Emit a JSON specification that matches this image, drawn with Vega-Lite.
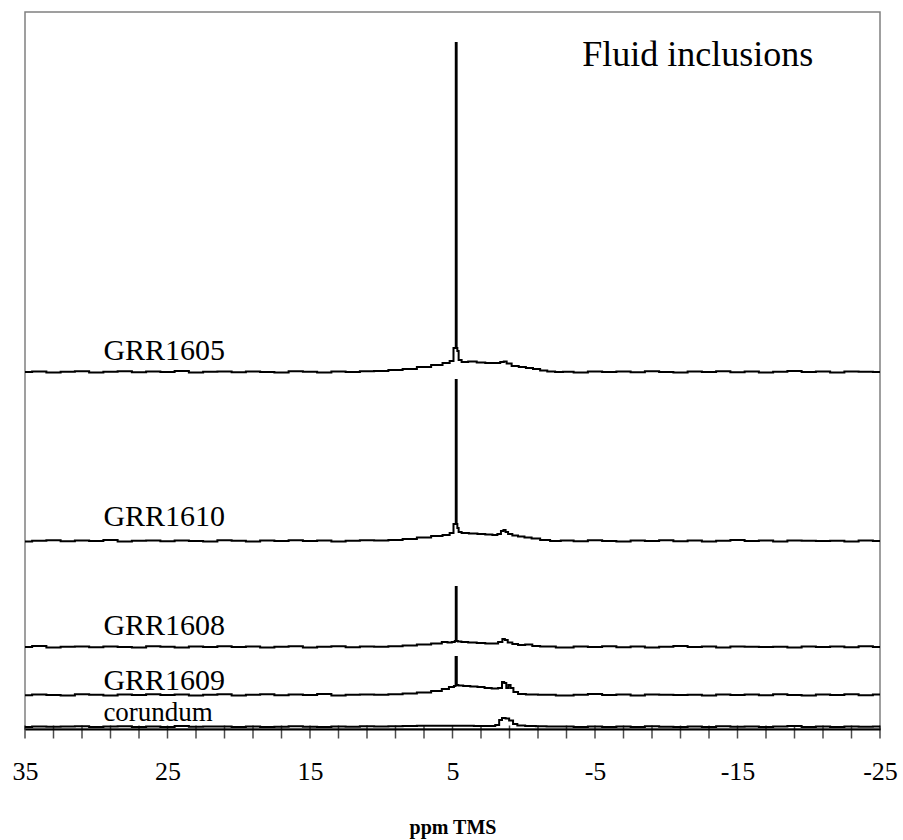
{
  "$schema": "https://vega.github.io/schema/vega-lite/v6.json",
  "width": 855,
  "height": 717,
  "autosize": {"type": "none"},
  "padding": {"left": 25, "right": 23, "top": 12, "bottom": 111},
  "background": "white",
  "config": {
    "view": {"stroke": "#808080", "strokeWidth": 1.5},
    "font": "Liberation Serif"
  },
  "datasets": {
    "spectra": [
      {"s":"GRR1605","x":35,"y":357},{"s":"GRR1605","x":34,"y":357.6},{"s":"GRR1605","x":33,"y":356.6},{"s":"GRR1605","x":32,"y":357.3},{"s":"GRR1605","x":31,"y":357.8},{"s":"GRR1605","x":30,"y":356.5},{"s":"GRR1605","x":29,"y":357.2},{"s":"GRR1605","x":28,"y":357.7},{"s":"GRR1605","x":27,"y":356.7},{"s":"GRR1605","x":26,"y":357.4},{"s":"GRR1605","x":25,"y":357},{"s":"GRR1605","x":24,"y":357.9},{"s":"GRR1605","x":23,"y":356.4},{"s":"GRR1605","x":22,"y":357.3},{"s":"GRR1605","x":21,"y":357.5},{"s":"GRR1605","x":20,"y":356.8},{"s":"GRR1605","x":19,"y":357.6},{"s":"GRR1605","x":18,"y":357},{"s":"GRR1605","x":17,"y":356.5},{"s":"GRR1605","x":16,"y":357.8},{"s":"GRR1605","x":15,"y":357.2},{"s":"GRR1605","x":14,"y":356.6},{"s":"GRR1605","x":13,"y":357.5},{"s":"GRR1605","x":12,"y":357.1},{"s":"GRR1605","x":11,"y":357.7},
      {"s":"GRR1605","x":10,"y":358},{"s":"GRR1605","x":9,"y":359},{"s":"GRR1605","x":8,"y":360},{"s":"GRR1605","x":7,"y":362},{"s":"GRR1605","x":6,"y":364},{"s":"GRR1605","x":5.4,"y":366},{"s":"GRR1605","x":5.0,"y":368},{"s":"GRR1605","x":4.86,"y":381},{"s":"GRR1605","x":4.78,"y":381},{"s":"GRR1605","x":4.76,"y":686},{"s":"GRR1605","x":4.72,"y":686},{"s":"GRR1605","x":4.70,"y":381},{"s":"GRR1605","x":4.62,"y":378},{"s":"GRR1605","x":4.52,"y":369},{"s":"GRR1605","x":4.2,"y":367},{"s":"GRR1605","x":3.6,"y":367.5},{"s":"GRR1605","x":3.0,"y":366.5},{"s":"GRR1605","x":2.4,"y":366},{"s":"GRR1605","x":1.8,"y":366},{"s":"GRR1605","x":1.5,"y":367},{"s":"GRR1605","x":1.3,"y":367.5},{"s":"GRR1605","x":1.1,"y":365.5},{"s":"GRR1605","x":0.6,"y":363},{"s":"GRR1605","x":0.1,"y":362},{"s":"GRR1605","x":-0.4,"y":361},{"s":"GRR1605","x":-0.9,"y":360},{"s":"GRR1605","x":-1.4,"y":358.5},{"s":"GRR1605","x":-1.9,"y":357.5},{"s":"GRR1605","x":-2.5,"y":357},
      {"s":"GRR1605","x":-3,"y":357.3},{"s":"GRR1605","x":-4,"y":356.6},{"s":"GRR1605","x":-5,"y":357.6},{"s":"GRR1605","x":-6,"y":357},{"s":"GRR1605","x":-7,"y":357.5},{"s":"GRR1605","x":-8,"y":356.7},{"s":"GRR1605","x":-9,"y":357.8},{"s":"GRR1605","x":-10,"y":357.1},{"s":"GRR1605","x":-11,"y":356.5},{"s":"GRR1605","x":-12,"y":357.4},{"s":"GRR1605","x":-13,"y":357},{"s":"GRR1605","x":-14,"y":357.7},{"s":"GRR1605","x":-15,"y":356.8},{"s":"GRR1605","x":-16,"y":357.5},{"s":"GRR1605","x":-17,"y":356.4},{"s":"GRR1605","x":-18,"y":357.3},{"s":"GRR1605","x":-19,"y":357.9},{"s":"GRR1605","x":-20,"y":356.9},{"s":"GRR1605","x":-21,"y":357.4},{"s":"GRR1605","x":-22,"y":356.6},{"s":"GRR1605","x":-23,"y":357.6},{"s":"GRR1605","x":-24,"y":357.2},{"s":"GRR1605","x":-25,"y":357},

      {"s":"GRR1610","x":35,"y":187.5},{"s":"GRR1610","x":34,"y":188.2},{"s":"GRR1610","x":33,"y":188.7},{"s":"GRR1610","x":32,"y":187.7},{"s":"GRR1610","x":31,"y":188.4},{"s":"GRR1610","x":30,"y":188},{"s":"GRR1610","x":29,"y":188.9},{"s":"GRR1610","x":28,"y":187.4},{"s":"GRR1610","x":27,"y":188.3},{"s":"GRR1610","x":26,"y":188.5},{"s":"GRR1610","x":25,"y":187.8},{"s":"GRR1610","x":24,"y":188.6},{"s":"GRR1610","x":23,"y":188},{"s":"GRR1610","x":22,"y":187.5},{"s":"GRR1610","x":21,"y":188.8},{"s":"GRR1610","x":20,"y":188.2},{"s":"GRR1610","x":19,"y":187.6},{"s":"GRR1610","x":18,"y":188.5},{"s":"GRR1610","x":17,"y":188.1},{"s":"GRR1610","x":16,"y":188.7},{"s":"GRR1610","x":15,"y":188},{"s":"GRR1610","x":14,"y":188.6},{"s":"GRR1610","x":13,"y":187.6},{"s":"GRR1610","x":12,"y":188.3},{"s":"GRR1610","x":11,"y":188.8},
      {"s":"GRR1610","x":10,"y":188.5},{"s":"GRR1610","x":9,"y":189},{"s":"GRR1610","x":8,"y":190},{"s":"GRR1610","x":7,"y":191.5},{"s":"GRR1610","x":6,"y":193},{"s":"GRR1610","x":5.4,"y":194},{"s":"GRR1610","x":5.0,"y":196},{"s":"GRR1610","x":4.86,"y":205},{"s":"GRR1610","x":4.78,"y":205},{"s":"GRR1610","x":4.76,"y":349},{"s":"GRR1610","x":4.72,"y":349},{"s":"GRR1610","x":4.70,"y":205},{"s":"GRR1610","x":4.62,"y":201},{"s":"GRR1610","x":4.52,"y":197},{"s":"GRR1610","x":4.2,"y":196},{"s":"GRR1610","x":3.5,"y":195.5},{"s":"GRR1610","x":3.0,"y":195},{"s":"GRR1610","x":2.4,"y":194.5},{"s":"GRR1610","x":2.0,"y":194},{"s":"GRR1610","x":1.7,"y":195},{"s":"GRR1610","x":1.5,"y":198},{"s":"GRR1610","x":1.35,"y":199},{"s":"GRR1610","x":1.2,"y":197},{"s":"GRR1610","x":1.0,"y":195},{"s":"GRR1610","x":0.6,"y":193.5},{"s":"GRR1610","x":0.2,"y":192.5},{"s":"GRR1610","x":-0.3,"y":191.5},{"s":"GRR1610","x":-0.8,"y":190.5},{"s":"GRR1610","x":-1.5,"y":189},{"s":"GRR1610","x":-2.2,"y":188},
      {"s":"GRR1610","x":-3,"y":188.5},{"s":"GRR1610","x":-4,"y":187.7},{"s":"GRR1610","x":-5,"y":188.8},{"s":"GRR1610","x":-6,"y":188.1},{"s":"GRR1610","x":-7,"y":187.5},{"s":"GRR1610","x":-8,"y":188.4},{"s":"GRR1610","x":-9,"y":188},{"s":"GRR1610","x":-10,"y":188.7},{"s":"GRR1610","x":-11,"y":187.8},{"s":"GRR1610","x":-12,"y":188.5},{"s":"GRR1610","x":-13,"y":187.4},{"s":"GRR1610","x":-14,"y":188.3},{"s":"GRR1610","x":-15,"y":188.9},{"s":"GRR1610","x":-16,"y":187.9},{"s":"GRR1610","x":-17,"y":188.4},{"s":"GRR1610","x":-18,"y":187.6},{"s":"GRR1610","x":-19,"y":188.6},{"s":"GRR1610","x":-20,"y":188.2},{"s":"GRR1610","x":-21,"y":188},{"s":"GRR1610","x":-22,"y":188.3},{"s":"GRR1610","x":-23,"y":187.6},{"s":"GRR1610","x":-24,"y":188.6},{"s":"GRR1610","x":-25,"y":188},

      {"s":"GRR1608","x":35,"y":82},{"s":"GRR1608","x":34,"y":82.9},{"s":"GRR1608","x":33,"y":81.4},{"s":"GRR1608","x":32,"y":82.3},{"s":"GRR1608","x":31,"y":82.5},{"s":"GRR1608","x":30,"y":81.8},{"s":"GRR1608","x":29,"y":82.6},{"s":"GRR1608","x":28,"y":82},{"s":"GRR1608","x":27,"y":81.5},{"s":"GRR1608","x":26,"y":82.8},{"s":"GRR1608","x":25,"y":82.2},{"s":"GRR1608","x":24,"y":81.6},{"s":"GRR1608","x":23,"y":82.5},{"s":"GRR1608","x":22,"y":82.1},{"s":"GRR1608","x":21,"y":82.7},{"s":"GRR1608","x":20,"y":82},{"s":"GRR1608","x":19,"y":82.6},{"s":"GRR1608","x":18,"y":81.6},{"s":"GRR1608","x":17,"y":82.3},{"s":"GRR1608","x":16,"y":82.8},{"s":"GRR1608","x":15,"y":81.5},{"s":"GRR1608","x":14,"y":82.2},{"s":"GRR1608","x":13,"y":82.7},{"s":"GRR1608","x":12,"y":81.7},{"s":"GRR1608","x":11,"y":82.4},
      {"s":"GRR1608","x":10,"y":82.3},{"s":"GRR1608","x":9,"y":82.8},{"s":"GRR1608","x":8,"y":83.5},{"s":"GRR1608","x":7,"y":84.5},{"s":"GRR1608","x":6,"y":85.5},{"s":"GRR1608","x":5.5,"y":87},{"s":"GRR1608","x":5.2,"y":86.5},{"s":"GRR1608","x":4.9,"y":87},{"s":"GRR1608","x":4.78,"y":88},{"s":"GRR1608","x":4.76,"y":142},{"s":"GRR1608","x":4.72,"y":142},{"s":"GRR1608","x":4.70,"y":88},{"s":"GRR1608","x":4.55,"y":87.5},{"s":"GRR1608","x":4.2,"y":87},{"s":"GRR1608","x":3.6,"y":86.5},{"s":"GRR1608","x":3.0,"y":86},{"s":"GRR1608","x":2.4,"y":85.5},{"s":"GRR1608","x":2.0,"y":85.5},{"s":"GRR1608","x":1.6,"y":87},{"s":"GRR1608","x":1.4,"y":90},{"s":"GRR1608","x":1.25,"y":89},{"s":"GRR1608","x":1.0,"y":86.5},{"s":"GRR1608","x":0.6,"y":85},{"s":"GRR1608","x":0.2,"y":84},{"s":"GRR1608","x":-0.4,"y":84.5},{"s":"GRR1608","x":-0.8,"y":83},{"s":"GRR1608","x":-1.5,"y":82.5},
      {"s":"GRR1608","x":-3,"y":81.5},{"s":"GRR1608","x":-4,"y":82.4},{"s":"GRR1608","x":-5,"y":82},{"s":"GRR1608","x":-6,"y":82.7},{"s":"GRR1608","x":-7,"y":81.8},{"s":"GRR1608","x":-8,"y":82.5},{"s":"GRR1608","x":-9,"y":81.4},{"s":"GRR1608","x":-10,"y":82.3},{"s":"GRR1608","x":-11,"y":82.9},{"s":"GRR1608","x":-12,"y":81.9},{"s":"GRR1608","x":-13,"y":82.4},{"s":"GRR1608","x":-14,"y":81.6},{"s":"GRR1608","x":-15,"y":82.6},{"s":"GRR1608","x":-16,"y":82.2},{"s":"GRR1608","x":-17,"y":82},{"s":"GRR1608","x":-18,"y":82.3},{"s":"GRR1608","x":-19,"y":81.6},{"s":"GRR1608","x":-20,"y":82.6},{"s":"GRR1608","x":-21,"y":82},{"s":"GRR1608","x":-22,"y":82.5},{"s":"GRR1608","x":-23,"y":81.7},{"s":"GRR1608","x":-24,"y":82.8},{"s":"GRR1608","x":-25,"y":82.1},

      {"s":"GRR1609","x":35,"y":33.8},{"s":"GRR1609","x":34,"y":34.6},{"s":"GRR1609","x":33,"y":34},{"s":"GRR1609","x":32,"y":33.5},{"s":"GRR1609","x":31,"y":34.8},{"s":"GRR1609","x":30,"y":34.2},{"s":"GRR1609","x":29,"y":33.6},{"s":"GRR1609","x":28,"y":34.5},{"s":"GRR1609","x":27,"y":34.1},{"s":"GRR1609","x":26,"y":34.7},{"s":"GRR1609","x":25,"y":34},{"s":"GRR1609","x":24,"y":34.6},{"s":"GRR1609","x":23,"y":33.6},{"s":"GRR1609","x":22,"y":34.3},{"s":"GRR1609","x":21,"y":34.8},{"s":"GRR1609","x":20,"y":33.5},{"s":"GRR1609","x":19,"y":34.2},{"s":"GRR1609","x":18,"y":34.7},{"s":"GRR1609","x":17,"y":33.7},{"s":"GRR1609","x":16,"y":34.4},{"s":"GRR1609","x":15,"y":34},{"s":"GRR1609","x":14,"y":34.9},{"s":"GRR1609","x":13,"y":33.4},{"s":"GRR1609","x":12,"y":34.3},{"s":"GRR1609","x":11,"y":34.5},
      {"s":"GRR1609","x":10,"y":34.3},{"s":"GRR1609","x":9,"y":34.8},{"s":"GRR1609","x":8,"y":35.5},{"s":"GRR1609","x":7,"y":36.5},{"s":"GRR1609","x":6,"y":38},{"s":"GRR1609","x":5.5,"y":40},{"s":"GRR1609","x":5.0,"y":42},{"s":"GRR1609","x":4.8,"y":43},{"s":"GRR1609","x":4.76,"y":72},{"s":"GRR1609","x":4.72,"y":72},{"s":"GRR1609","x":4.68,"y":44},{"s":"GRR1609","x":4.5,"y":43.5},{"s":"GRR1609","x":4.0,"y":43},{"s":"GRR1609","x":3.5,"y":42.5},{"s":"GRR1609","x":3.0,"y":42},{"s":"GRR1609","x":2.5,"y":41},{"s":"GRR1609","x":2.0,"y":40.5},{"s":"GRR1609","x":1.6,"y":41},{"s":"GRR1609","x":1.45,"y":47},{"s":"GRR1609","x":1.3,"y":46},{"s":"GRR1609","x":1.15,"y":41},{"s":"GRR1609","x":1.0,"y":44},{"s":"GRR1609","x":0.85,"y":41},{"s":"GRR1609","x":0.6,"y":37},{"s":"GRR1609","x":0.2,"y":35},{"s":"GRR1609","x":-0.5,"y":34.5},{"s":"GRR1609","x":-1.5,"y":34.2},
      {"s":"GRR1609","x":-3,"y":33.4},{"s":"GRR1609","x":-4,"y":34.3},{"s":"GRR1609","x":-5,"y":34.9},{"s":"GRR1609","x":-6,"y":33.9},{"s":"GRR1609","x":-7,"y":34.4},{"s":"GRR1609","x":-8,"y":33.6},{"s":"GRR1609","x":-9,"y":34.6},{"s":"GRR1609","x":-10,"y":34.2},{"s":"GRR1609","x":-11,"y":34},{"s":"GRR1609","x":-12,"y":34.3},{"s":"GRR1609","x":-13,"y":33.6},{"s":"GRR1609","x":-14,"y":34.6},{"s":"GRR1609","x":-15,"y":34},{"s":"GRR1609","x":-16,"y":34.5},{"s":"GRR1609","x":-17,"y":33.7},{"s":"GRR1609","x":-18,"y":34.8},{"s":"GRR1609","x":-19,"y":34.1},{"s":"GRR1609","x":-20,"y":33.5},{"s":"GRR1609","x":-21,"y":34.4},{"s":"GRR1609","x":-22,"y":34},{"s":"GRR1609","x":-23,"y":34.7},{"s":"GRR1609","x":-24,"y":33.8},{"s":"GRR1609","x":-25,"y":34.5},

      {"s":"corundum","x":35,"y":2},{"s":"corundum","x":34,"y":2.6},{"s":"corundum","x":33,"y":2.2},{"s":"corundum","x":32,"y":2.5},{"s":"corundum","x":31,"y":2.8},{"s":"corundum","x":30,"y":2},{"s":"corundum","x":29,"y":2.4},{"s":"corundum","x":28,"y":2.7},{"s":"corundum","x":27,"y":2.1},{"s":"corundum","x":26,"y":2.5},{"s":"corundum","x":25,"y":2},{"s":"corundum","x":24,"y":2.9},{"s":"corundum","x":23,"y":2.2},{"s":"corundum","x":22,"y":2.4},{"s":"corundum","x":21,"y":2.6},{"s":"corundum","x":20,"y":2},{"s":"corundum","x":19,"y":2.5},{"s":"corundum","x":18,"y":2.1},{"s":"corundum","x":17,"y":2.3},{"s":"corundum","x":16,"y":2.8},{"s":"corundum","x":15,"y":2.2},{"s":"corundum","x":14,"y":2},{"s":"corundum","x":13,"y":2.5},{"s":"corundum","x":12,"y":2.2},{"s":"corundum","x":11,"y":2.7},
      {"s":"corundum","x":10,"y":2.5},{"s":"corundum","x":9,"y":2.8},{"s":"corundum","x":8,"y":3},{"s":"corundum","x":7,"y":3.2},{"s":"corundum","x":6,"y":3.3},{"s":"corundum","x":5,"y":3.3},{"s":"corundum","x":4,"y":3.2},{"s":"corundum","x":3,"y":3},{"s":"corundum","x":2.2,"y":3},{"s":"corundum","x":1.8,"y":4},{"s":"corundum","x":1.65,"y":9},{"s":"corundum","x":1.4,"y":11},{"s":"corundum","x":1.15,"y":10.5},{"s":"corundum","x":0.9,"y":8.5},{"s":"corundum","x":0.6,"y":5},{"s":"corundum","x":0.3,"y":3.5},{"s":"corundum","x":-0.5,"y":3},{"s":"corundum","x":-1.2,"y":2.7},{"s":"corundum","x":-2,"y":2.4},
      {"s":"corundum","x":-3,"y":2.4},{"s":"corundum","x":-4,"y":2},{"s":"corundum","x":-5,"y":2.6},{"s":"corundum","x":-6,"y":2.1},{"s":"corundum","x":-7,"y":2.5},{"s":"corundum","x":-8,"y":2},{"s":"corundum","x":-9,"y":2.8},{"s":"corundum","x":-10,"y":2.2},{"s":"corundum","x":-11,"y":2},{"s":"corundum","x":-12,"y":2.5},{"s":"corundum","x":-13,"y":2.1},{"s":"corundum","x":-14,"y":2.7},{"s":"corundum","x":-15,"y":2.2},{"s":"corundum","x":-16,"y":2.5},{"s":"corundum","x":-17,"y":2},{"s":"corundum","x":-18,"y":2.4},{"s":"corundum","x":-19,"y":2.9},{"s":"corundum","x":-20,"y":2.1},{"s":"corundum","x":-21,"y":2.4},{"s":"corundum","x":-22,"y":2},{"s":"corundum","x":-23,"y":2.6},{"s":"corundum","x":-24,"y":2.3},{"s":"corundum","x":-25,"y":2.5}
    ],
    "labels": [
      {"t":"GRR1605","x":29.5,"y":378,"size":30},
      {"t":"GRR1610","x":29.5,"y":212,"size":30},
      {"t":"GRR1608","x":29.5,"y":103,"size":30},
      {"t":"GRR1609","x":29.5,"y":48,"size":30},
      {"t":"corundum","x":29.5,"y":16,"size":27},
      {"t":"Fluid inclusions","x":-4.1,"y":674,"size":36}
    ],
    "ticks": [
      {"x":35},{"x":33},{"x":31},{"x":29},{"x":27},{"x":25},{"x":23},{"x":21},{"x":19},{"x":17},{"x":15},{"x":13},{"x":11},{"x":9},{"x":7},{"x":5},{"x":3},{"x":1},{"x":-1},{"x":-3},{"x":-5},{"x":-7},{"x":-9},{"x":-11},{"x":-13},{"x":-15},{"x":-17},{"x":-19},{"x":-21},{"x":-23},{"x":-25}
    ]
  },
  "layer": [
    {
      "data": {"name": "spectra"},
      "mark": {"type": "line", "color": "black", "strokeWidth": 2, "interpolate": "step", "clip": true},
      "encoding": {
        "x": {
          "field": "x", "type": "quantitative",
          "scale": {"domain": [35, -25], "nice": false, "zero": false},
          "axis": {
            "title": "ppm TMS",
            "titleFont": "Liberation Serif", "titleFontSize": 20, "titleFontWeight": "bold", "titleColor": "black",
            "titlePadding": 33,
            "values": [35, 25, 15, 5, -5, -15, -25],
            "format": "d",
            "labelExpr": "replace(datum.label, '−', '-')",
            "labelFont": "Liberation Serif", "labelFontSize": 26, "labelColor": "black",
            "labelPadding": 20, "labelOverlap": false, "labelFlush": false,
            "grid": false,
            "domainColor": "black", "domainWidth": 2,
            "ticks": true, "tickOpacity": 0, "tickSize": 9
          }
        },
        "y": {
          "field": "y", "type": "quantitative",
          "scale": {"domain": [0, 717], "nice": false, "zero": false},
          "axis": null
        },
        "detail": {"field": "s"}
      }
    },
    {
      "data": {"name": "ticks"},
      "mark": {"type": "tick", "orient": "vertical", "color": "black", "size": 13, "thickness": 1.5, "yOffset": 3, "clip": false},
      "encoding": {
        "x": {"field": "x", "type": "quantitative"},
        "y": {"datum": 0, "type": "quantitative"}
      }
    },
    {
      "data": {"name": "labels"},
      "mark": {"type": "text", "font": "Liberation Serif", "color": "black", "align": "left", "baseline": "middle"},
      "encoding": {
        "x": {"field": "x", "type": "quantitative"},
        "y": {"field": "y", "type": "quantitative"},
        "text": {"field": "t"},
        "size": {"field": "size", "type": "quantitative", "scale": null}
      }
    }
  ]
}
